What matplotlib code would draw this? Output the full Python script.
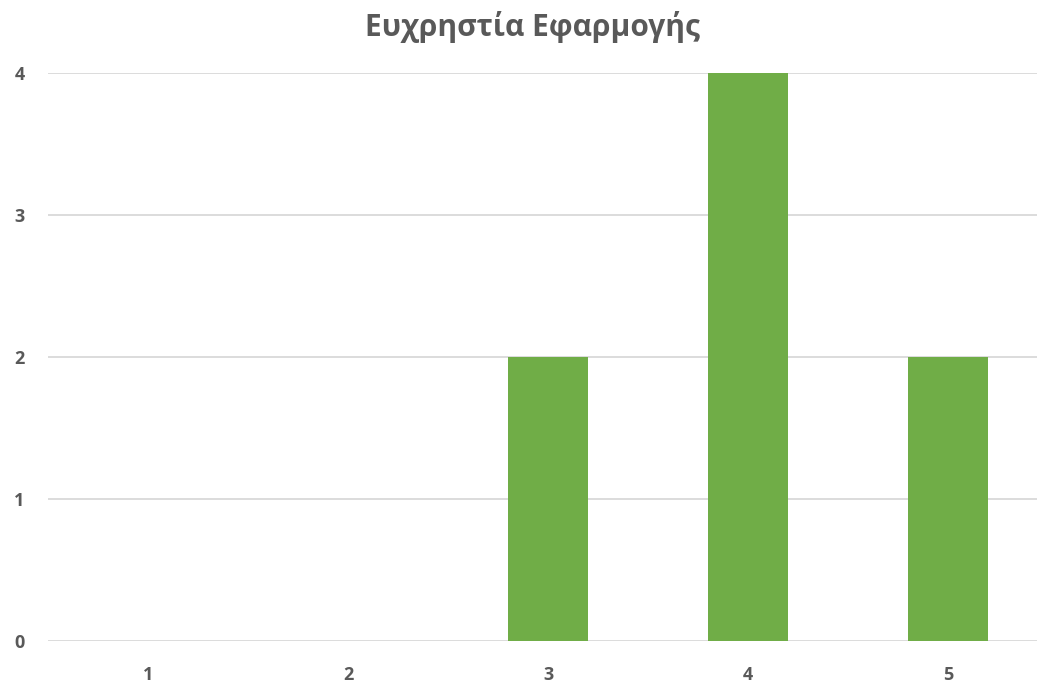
import matplotlib
matplotlib.use("Agg")
import matplotlib.pyplot as plt

categories = ["1", "2", "3", "4", "5"]
counts = [0, 0, 2, 4, 2]
title = "Ευχρηστία Εφαρμογής"

W, H, DPI = 1037, 688, 100
fig = plt.figure(figsize=(W / DPI, H / DPI), dpi=DPI)
left, right = 48 / W, 1.0
bottom, top = (H - 641) / H, (H - 73) / H
ax = fig.add_axes([left, bottom, right - left, top - bottom])

text_color = "#595959"
grid_color = "#D9D9D9"
bar_color = "#70AD47"

x = list(range(1, len(categories) + 1))
ax.bar(x, counts, width=0.4, color=bar_color, zorder=3)

ax.set_xlim(0.5, 0.5 + (W - 48) / 200)
ax.set_ylim(0, 4)
ax.set_yticks([0, 1, 2, 3, 4])
ax.set_xticks(x)
ax.set_xticklabels(categories)

for s in ax.spines.values():
    s.set_visible(False)
ax.grid(axis="y", color=grid_color, linewidth=1.3, zorder=0)
ax.tick_params(length=0)
ax.tick_params(axis="y", pad=17)
ax.tick_params(axis="x", pad=18)
for lbl in ax.get_xticklabels() + ax.get_yticklabels():
    lbl.set_fontsize(13)
    lbl.set_fontweight("bold")
    lbl.set_color(text_color)
    lbl.set_fontfamily("Open Sans")

fig.text((362 + 703) / 2 / W, 1 - 27 / H, title, ha="center", va="center",
         fontsize=21.5, fontweight="bold", color=text_color, family="Open Sans")

fig.savefig("out.png", dpi=DPI)
